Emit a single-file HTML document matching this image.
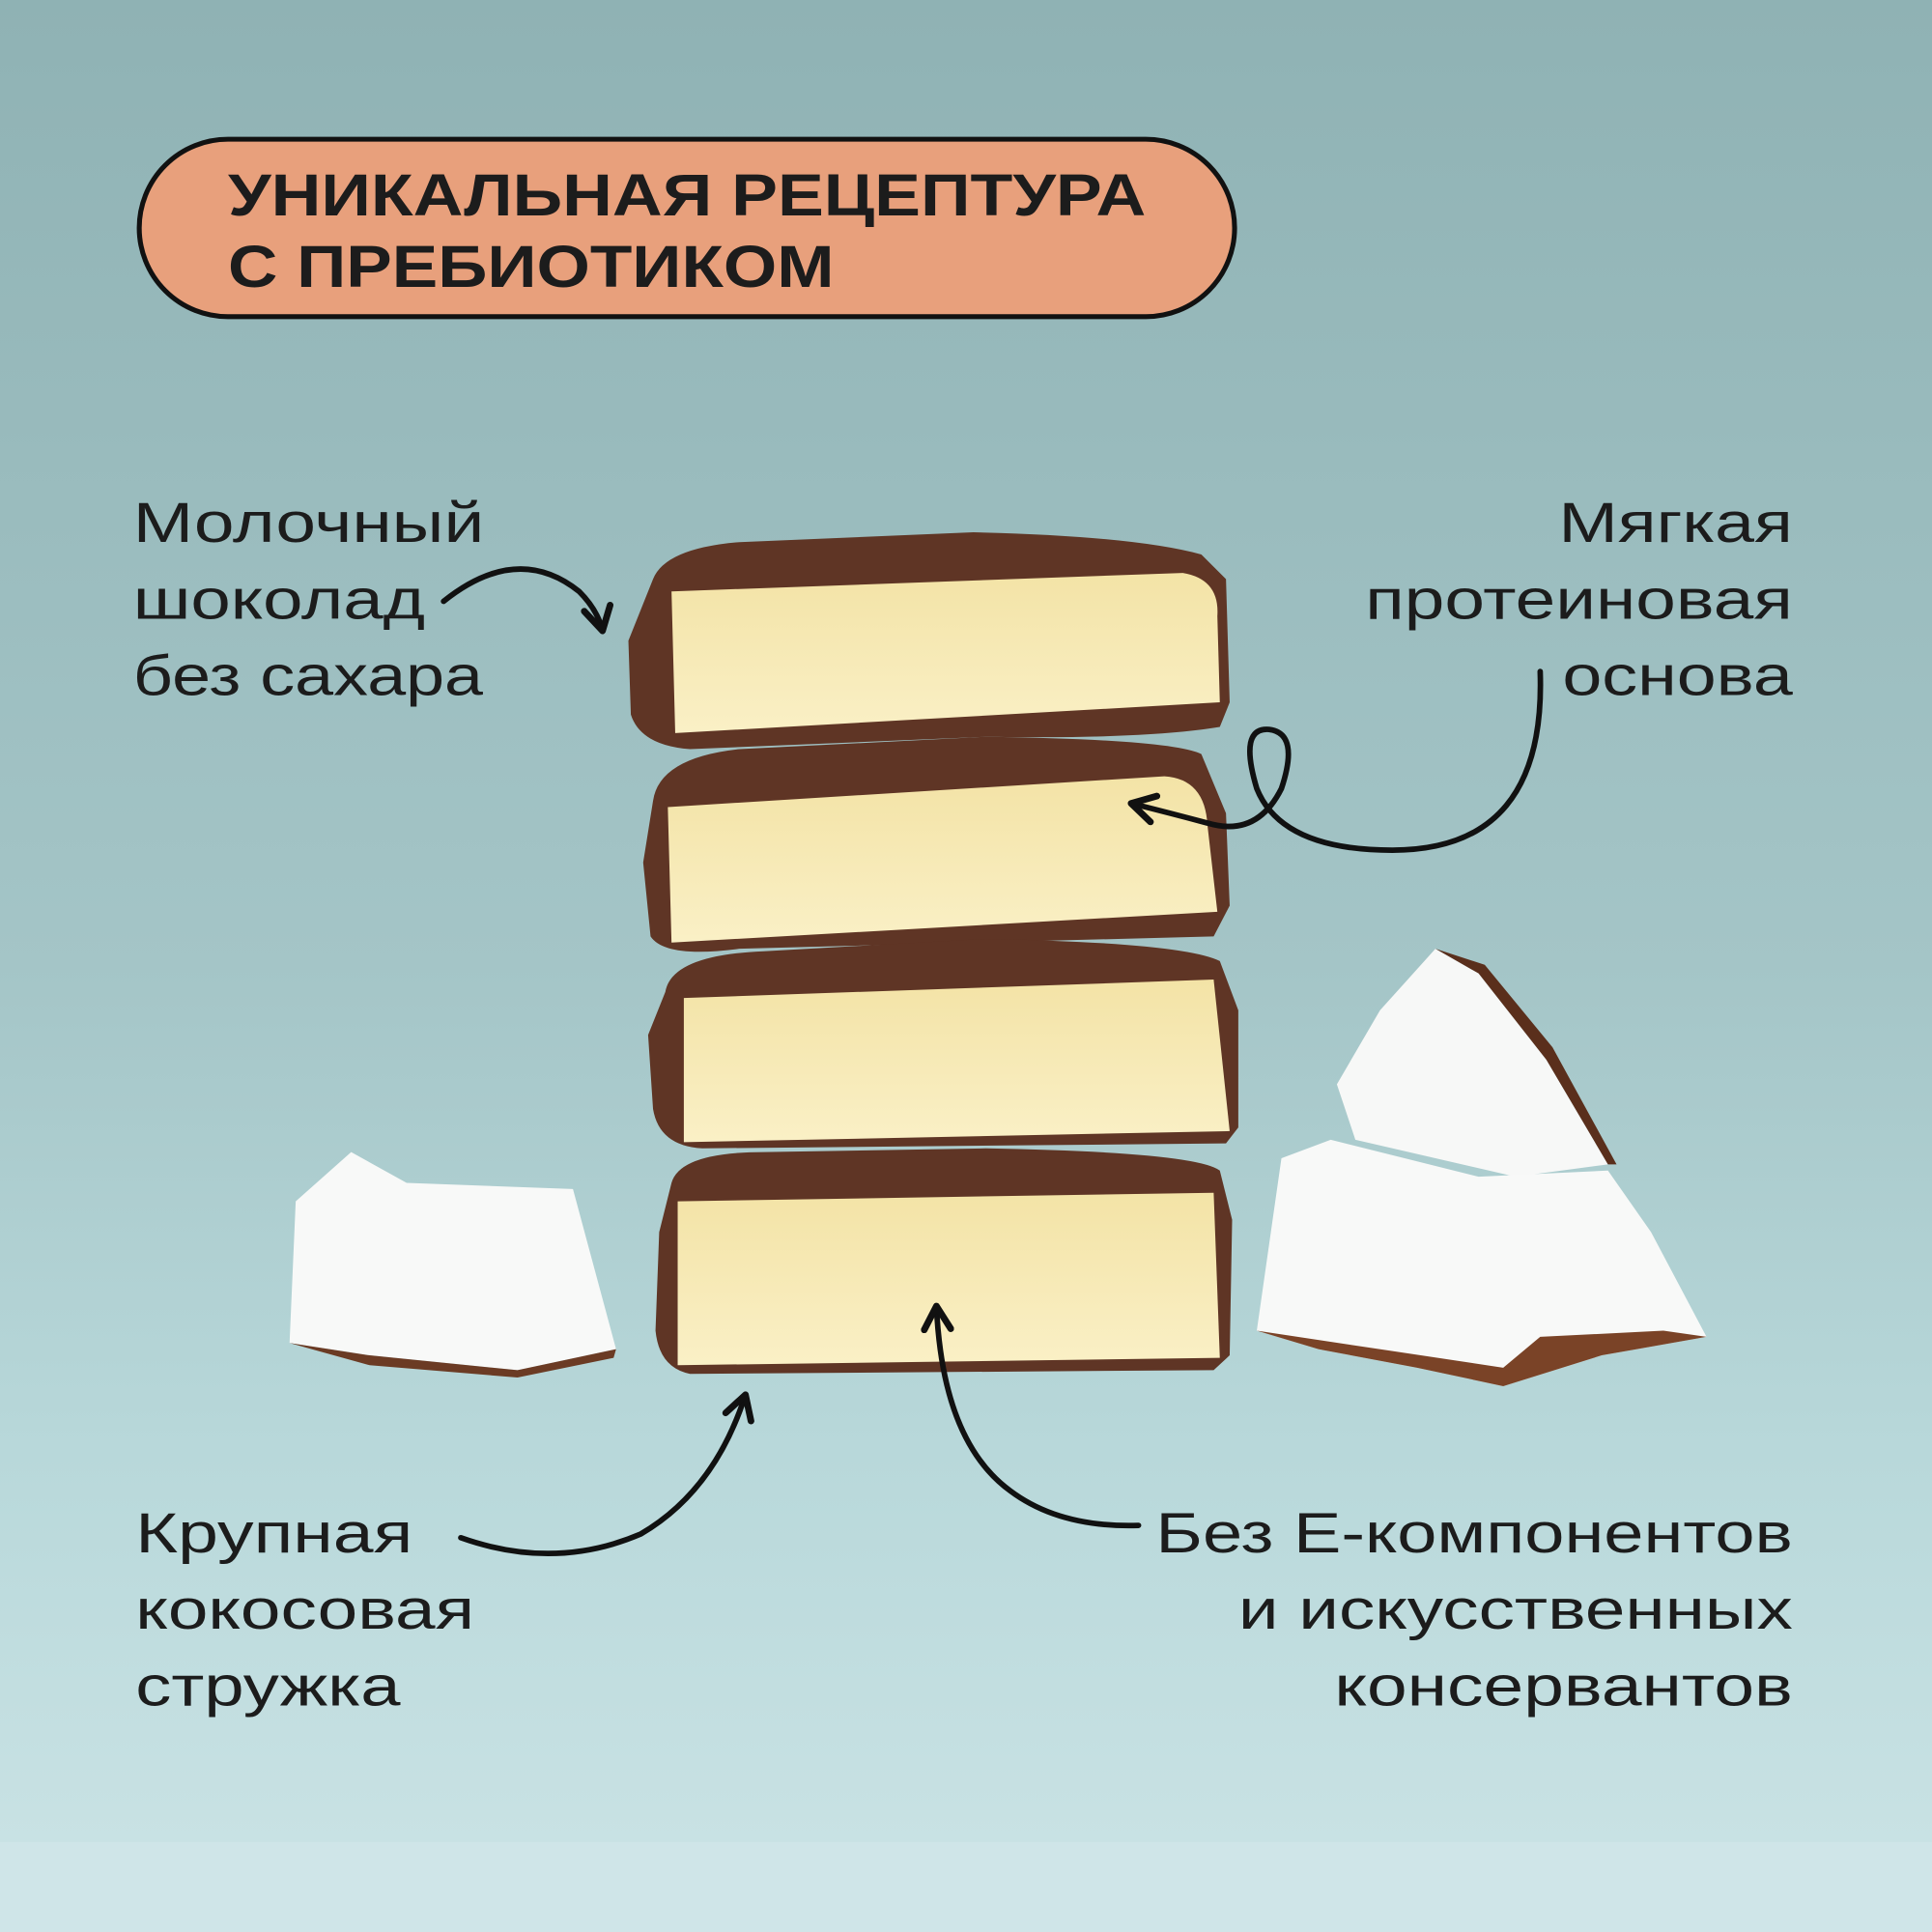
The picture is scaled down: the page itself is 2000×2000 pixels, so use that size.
<!DOCTYPE html>
<html><head><meta charset="utf-8"><style>
html,body{margin:0;padding:0;width:2000px;height:2000px;overflow:hidden}
svg{display:block}
text{font-family:"Liberation Sans","DejaVu Sans",sans-serif;fill:#1c1c1c}
</style></head><body>
<svg width="2000" height="2000" viewBox="0 0 1568 1568" xmlns="http://www.w3.org/2000/svg">
<defs>
<linearGradient id="bg" x1="0" y1="0" x2="0" y2="1">
<stop offset="0" stop-color="#8fb2b4"/>
<stop offset="0.5" stop-color="#a4c5c7"/>
<stop offset="0.75" stop-color="#b8d8da"/>
<stop offset="1" stop-color="#cce4e6"/>
</linearGradient>
<linearGradient id="cake" x1="0" y1="0" x2="0" y2="1">
<stop offset="0" stop-color="#f3e3a6"/>
<stop offset="1" stop-color="#faf0c6"/>
</linearGradient>
<marker id="ah" viewBox="0 0 10 10" refX="8" refY="5" markerWidth="6" markerHeight="6" orient="auto-start-reverse">
<path d="M1 1 L8 5 L1 9" fill="none" stroke="#111" stroke-width="2" stroke-linecap="round" stroke-linejoin="round"/>
</marker>
</defs>
<rect width="1568" height="1568" fill="url(#bg)"/>
<rect y="1495" width="1568" height="73" fill="#cfe5e8"/>

<rect x="113" y="113" width="889" height="144" rx="72" fill="#e8a07c" stroke="#111" stroke-width="4"/>
<text x="185" y="175" font-size="48" font-weight="bold" textLength="745" lengthAdjust="spacingAndGlyphs">УНИКАЛЬНАЯ РЕЦЕПТУРА</text>
<text x="185" y="233" font-size="48" font-weight="bold" textLength="492" lengthAdjust="spacingAndGlyphs">С ПРЕБИОТИКОМ</text>

<path d="M240 975 L285 935 L330 960 L465 965 L500 1095 L420 1112 L300 1100 L235 1090 Z" fill="#f8f9f8"/>
<path d="M235 1090 L300 1100 L420 1112 L500 1095 L498 1102 L420 1118 L300 1108 Z" fill="#6b3b24"/>
<path d="M1085 880 L1120 820 L1165 770 L1200 790 L1255 860 L1305 945 L1230 955 L1100 925 Z" fill="#f7f8f7"/>
<path d="M1165 770 L1200 790 L1255 860 L1305 945 L1312 945 L1260 850 L1205 783 Z" fill="#5a2f1c"/>
<path d="M1040 940 L1080 925 L1200 955 L1305 950 L1340 1000 L1385 1085 L1300 1100 L1220 1125 L1150 1110 L1070 1095 L1020 1080 Z" fill="#f8f9f8"/>
<path d="M1020 1080 L1070 1095 L1150 1110 L1220 1125 L1300 1100 L1385 1085 L1350 1080 L1250 1085 L1220 1110 L1140 1098 Z" fill="#7a4327"/>

<g>
<path d="M530 470 Q540 445 600 440 L790 432 Q920 435 975 450 L995 470 L998 570 L990 590 Q930 600 800 598 L560 608 Q520 605 512 580 L510 520 Z" fill="#5f3525"/>
<path d="M545 480 L960 465 Q990 470 988 500 L990 570 L548 595 Z" fill="url(#cake)"/>
<path d="M530 650 Q535 615 600 608 L800 598 Q950 600 975 612 L995 660 L998 735 L985 760 L600 770 Q540 778 528 760 L522 700 Z" fill="#5f3525"/>
<path d="M542 655 L945 630 Q978 632 980 670 L988 740 L545 765 Z" fill="url(#cake)"/>
<path d="M540 805 Q545 775 620 772 L800 762 Q960 765 990 780 L1005 820 L1005 915 L995 928 L570 932 Q535 930 530 900 L526 840 Z" fill="#5f3525"/>
<path d="M555 810 L985 795 L998 918 L555 927 Z" fill="url(#cake)"/>
<path d="M545 960 Q552 935 620 935 L800 932 Q970 935 990 950 L1000 990 L998 1100 L985 1112 L560 1115 Q535 1110 532 1080 L535 1000 Z" fill="#5f3525"/>
<path d="M550 975 L985 968 L990 1102 L550 1108 Z" fill="url(#cake)"/>
</g>

<g font-size="46" lengthAdjust="spacingAndGlyphs">
<text x="108" y="440" textLength="285" lengthAdjust="spacingAndGlyphs">Молочный</text>
<text x="108" y="502" textLength="237" lengthAdjust="spacingAndGlyphs">шоколад</text>
<text x="108" y="564" textLength="284" lengthAdjust="spacingAndGlyphs">без сахара</text>
<text x="1265" y="440" textLength="190" lengthAdjust="spacingAndGlyphs">Мягкая</text>
<text x="1108" y="502" textLength="347" lengthAdjust="spacingAndGlyphs">протеиновая</text>
<text x="1268" y="564" textLength="187" lengthAdjust="spacingAndGlyphs">основа</text>
<text x="110" y="1260" textLength="225" lengthAdjust="spacingAndGlyphs">Крупная</text>
<text x="110" y="1322" textLength="275" lengthAdjust="spacingAndGlyphs">кокосовая</text>
<text x="110" y="1384" textLength="215" lengthAdjust="spacingAndGlyphs">стружка</text>
<text x="938" y="1260" textLength="517" lengthAdjust="spacingAndGlyphs">Без Е-компонентов</text>
<text x="1005" y="1322" textLength="450" lengthAdjust="spacingAndGlyphs">и искусственных</text>
<text x="1083" y="1384" textLength="372" lengthAdjust="spacingAndGlyphs">консервантов</text>
</g>

<g fill="none" stroke="#111" stroke-width="4.5" stroke-linecap="round">
<path d="M360 488 Q420 440 470 480 Q485 495 489 512" marker-end="url(#ah)"/>
<path d="M1250 545 Q1255 690 1130 690 Q1040 690 1020 640 Q1005 590 1030 592 Q1055 595 1040 640 Q1020 680 980 668 Q950 660 918 652" marker-end="url(#ah)"/>
<path d="M374 1248 Q450 1275 520 1245 Q580 1210 605 1132" marker-end="url(#ah)"/>
<path d="M924 1238 Q860 1240 820 1210 Q765 1170 760 1060" marker-end="url(#ah)"/>
</g>
</svg>
</body></html>
